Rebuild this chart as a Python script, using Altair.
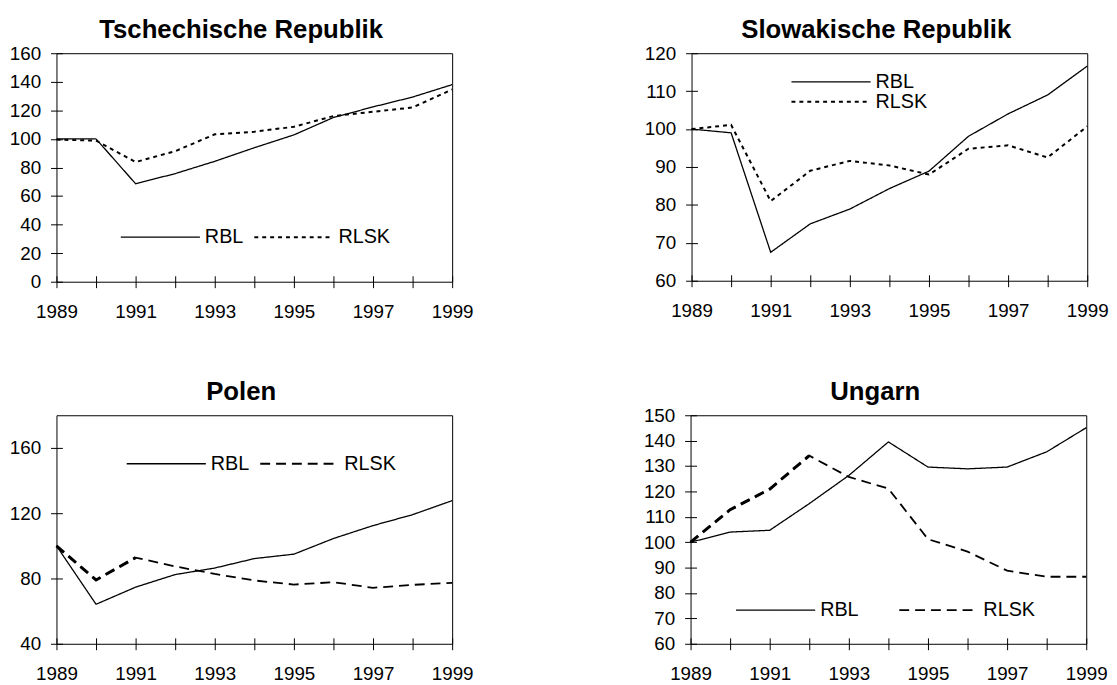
import altair as alt
import pandas as pd

# ---- data ----
years = list(range(1989, 2000))
series_names = ["RBL", "RLSK"]

cz_rbl = [100, 100, 68.6, 75.7, 84.3, 93.8, 102.8, 115.0, 122.4, 129.3, 138.0]
cz_rlsk = [99.5, 98.8, 83.8, 91.4, 103.2, 105.0, 108.5, 116.0, 119.0, 122.0, 134.6]

sk_rbl = [100, 99.0, 67.5, 75.0, 78.9, 84.3, 88.9, 98.1, 104.0, 109.0, 116.6]
sk_rlsk = [100, 101.1, 81.0, 89.0, 91.6, 90.4, 88.0, 94.8, 95.7, 92.5, 100.7]

pl_rbl = [100, 64.2, 74.7, 82.4, 86.4, 92.2, 94.9, 104.5, 112.4, 119.1, 127.7]
pl_rlsk = [100, 79.1, 92.8, 87.4, 82.8, 78.8, 76.3, 77.7, 74.3, 76.1, 77.3]

hu_rbl = [100, 104.0, 104.7, 115.2, 126.3, 139.5, 129.6, 128.9, 129.6, 135.6, 145.1]
hu_rlsk = [100, 112.8, 120.9, 134.1, 125.7, 121.1, 101.2, 96.3, 88.8, 86.4, 86.4]

# number of leading RLSK points drawn heavier in the reference
pl_heavy_points = 3
hu_heavy_points = 4

cz_yticks = [0, 20, 40, 60, 80, 100, 120, 140, 160]
sk_yticks = [60, 70, 80, 90, 100, 110, 120]
pl_yticks = [40, 80, 120, 160]
hu_yticks = [60, 70, 80, 90, 100, 110, 120, 130, 140, 150]

FONT = "Liberation Sans"


def make_df(rbl, rlsk):
    rows = []
    for yr, a, b in zip(years, rbl, rlsk):
        rows.append({"Jahr": yr, "Reihe": "RBL", "Wert": a})
        rows.append({"Jahr": yr, "Reihe": "RLSK", "Wert": b})
    return pd.DataFrame(rows)


def panel(title, rbl, rlsk, ydomain, yticks, dash, dash_width, leg, w, h, toff, heavy=0):
    df = make_df(rbl, rlsk)
    x = alt.X(
        "Jahr:Q",
        scale=alt.Scale(domain=[1989, 1999], nice=False, zero=False),
        axis=alt.Axis(
            values=years, format="d", title=None, domain=False, grid=False,
            tickSize=12, offset=-6, tickColor="black", tickWidth=1,
            labelExpr="datum.value % 2 == 1 ? datum.label : ''",
            labelPadding=15, labelFont=FONT, labelFontSize=19, labelColor="black",
            labelFlush=False, labelOverlap=False,
        ),
    )
    y = alt.Y(
        "Wert:Q",
        scale=alt.Scale(domain=ydomain, nice=False, zero=False),
        axis=alt.Axis(
            values=yticks, title=None, domain=False, grid=False,
            tickSize=12, offset=-6, tickColor="black", tickWidth=1,
            labelPadding=10, labelFont=FONT, labelFontSize=19, labelColor="black",
            labelOverlap=False,
        ),
    )
    legend = alt.Legend(
        title=None, orient="none", legendX=leg["x"], legendY=leg["y"],
        direction=leg["dir"], symbolType="stroke", symbolSize=6400,
        symbolStrokeColor="black", symbolStrokeWidth=1.5,
        labelFont=FONT, labelFontSize=20, labelColor="black", labelOffset=4,
        columnPadding=leg["colpad"], rowPadding=0, clipHeight=20, padding=0,
    )
    title_obj = alt.Title(title, font=FONT, fontSize=26, fontWeight="bold",
                          color="black", anchor="middle", frame="bounds", offset=toff)
    lines = alt.Chart(df).mark_line(color="black", strokeCap="butt").encode(
        x=x,
        y=y,
        strokeDash=alt.StrokeDash(
            "Reihe:N",
            scale=alt.Scale(domain=series_names, range=[[1, 0], dash]),
            legend=legend,
        ),
        strokeWidth=alt.StrokeWidth(
            "Reihe:N",
            scale=alt.Scale(domain=series_names, range=[1.3, dash_width]),
            legend=None,
        ),
    )
    if heavy:
        hdf = pd.DataFrame({"Jahr": years[:heavy], "Wert": rlsk[:heavy]})
        thick = alt.Chart(hdf).mark_line(
            color="black", strokeCap="butt", strokeWidth=3, strokeDash=dash
        ).encode(x=x, y=y)
        chart = alt.layer(lines, thick, title=title_obj)
    else:
        chart = lines.properties(title=title_obj)
    return chart.properties(width=w, height=h)


p1 = panel("Tschechische Republik", cz_rbl, cz_rlsk, [0, 160], cz_yticks, [4, 4], 2,
           {"x": 64, "y": 176, "dir": "horizontal", "colpad": 10}, 400, 231, 1)
p2 = panel("Slowakische Republik", sk_rbl, sk_rlsk, [60, 120], sk_yticks, [4, 4], 2,
           {"x": 100, "y": 19, "dir": "vertical", "colpad": 10}, 400, 230, 1)
p3 = panel("Polen", pl_rbl, pl_rlsk, [40, 180], pl_yticks, [10, 6], 1.8,
           {"x": 70, "y": 39, "dir": "horizontal", "colpad": 10}, 400, 231, 10,
           heavy=pl_heavy_points)
p4 = panel("Ungarn", hu_rbl, hu_rlsk, [60, 150], hu_yticks, [10, 6], 1.8,
           {"x": 45, "y": 187, "dir": "horizontal", "colpad": 40}, 400, 231, 1,
           heavy=hu_heavy_points)


def indep(c):
    return c.resolve_scale(
        x="independent", y="independent", strokeDash="independent", strokeWidth="independent"
    ).resolve_legend(strokeDash="independent", strokeWidth="independent")


row1 = indep(alt.hconcat(p1, p2, spacing=171))
row2 = indep(alt.hconcat(p3, p4, spacing=170))

chart = (
    indep(alt.vconcat(row1, row2, spacing=57))
    .configure_view(stroke="black", strokeWidth=1)
    .properties(padding={"left": 0, "top": 5, "right": 0, "bottom": 0}, background="white")
)

chart.save("out.html", embed_options={"renderer": "svg", "actions": False})
